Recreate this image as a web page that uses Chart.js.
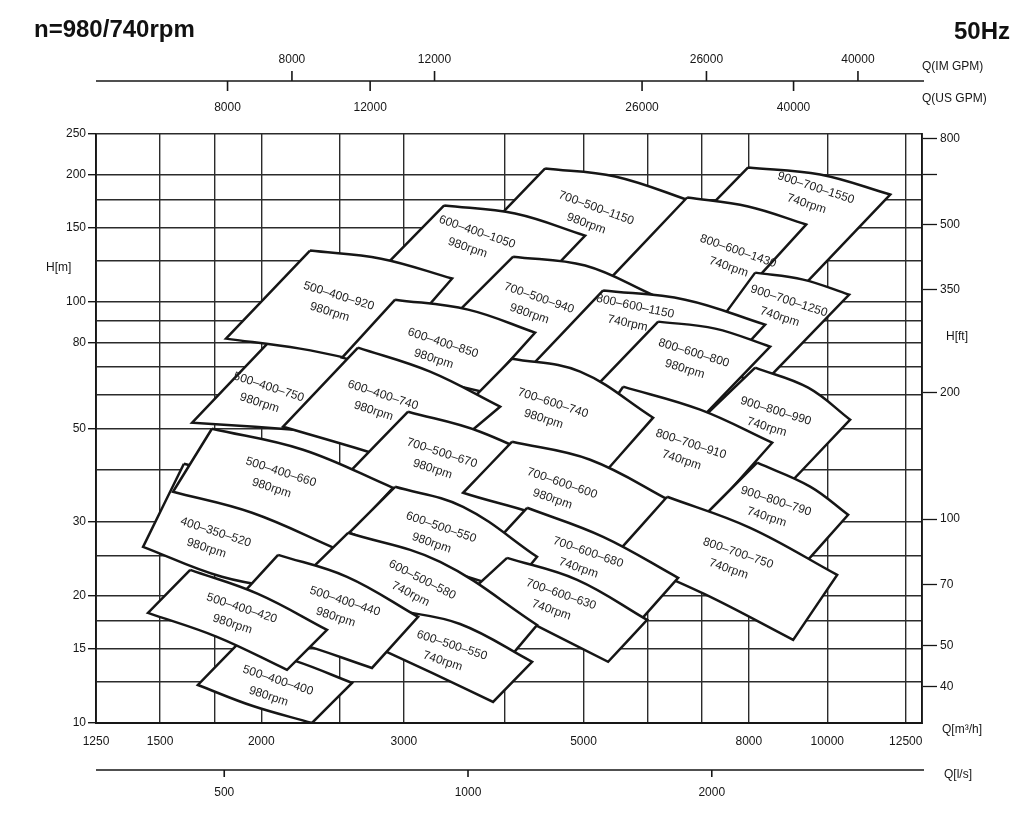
<!DOCTYPE html>
<html>
<head>
<meta charset="utf-8">
<title>Pump selection chart 980/740rpm 50Hz</title>
<script src="https://cdn.jsdelivr.net/npm/chart.js@4.4.1/dist/chart.umd.min.js"></script>
<style>
  html, body { margin: 0; padding: 0; background: #fff; }
  #wrap { width: 1024px; height: 827px; position: relative; }
</style>
</head>
<body>
<div id="wrap"><canvas id="chart" width="1024" height="827"></canvas></div>
<script>
// unit conversions to m3/h and m
const M3H_PER_IMGPM = 0.272765;
const M3H_PER_USGPM = 0.227125;
const M3H_PER_LS = 3.6;
const M_PER_FT = 0.3048;

// axes
const qGrid = [1250, 1500, 1750, 2000, 2500, 3000, 4000, 5000, 6000, 7000, 8000, 10000, 12500];
const qLabels = [1250, 1500, 2000, 3000, 5000, 8000, 10000, 12500];
const hGrid = [10, 12.5, 15, 17.5, 20, 25, 30, 40, 50, 60, 70, 80, 90, 100, 125, 150, 175, 200, 250];
const hLabels = [10, 15, 20, 30, 50, 80, 100, 150, 200, 250];
const ftTicks = [40, 50, 70, 100, 200, 350, 500, 656.2, 800];
const ftLabels = [40, 50, 70, 100, 200, 350, 500, 800];
const imGpmTicks = [8000, 12000, 26000, 40000];
const usGpmTicks = [8000, 12000, 26000, 40000];
const lsTicks = [500, 1000, 2000];

// pump tiles, listed back to front
const tileNames = ['900–700–1550', '700–500–1150', '800–600–1430', '600–400–1050', '500–400–750',
  '500–400–920', '700–500–940', '900–700–1250', '800–600–1150', '600–400–850', '800–600–800',
  '900–800–990', '800–700–910', '700–600–740', '600–400–740', '400–350–520', '700–500–670',
  '500–400–660', '700–600–600', '900–800–790', '800–700–750', '700–600–680', '600–500–550',
  '700–600–630', '600–500–580', '600–500–550', '500–400–440', '500–400–400', '500–400–420'];
const tileSpeeds = ['740rpm', '980rpm', '740rpm', '980rpm', '980rpm', '980rpm', '980rpm', '740rpm',
  '740rpm', '980rpm', '980rpm', '740rpm', '740rpm', '980rpm', '980rpm', '980rpm', '980rpm', '980rpm',
  '980rpm', '740rpm', '740rpm', '740rpm', '980rpm', '740rpm', '740rpm', '740rpm', '980rpm', '980rpm', '980rpm'];

// top edge [Q m3/h, H m]: left, middle, right
const tileTop = [
  [[7984, 208.2], [9799, 200.4], [11958, 179.6]],
  [[4483, 207.1], [5471, 198.2], [6868, 171.9]],
  [[6713, 176.7], [7984, 168.2], [9416, 152.4]],
  [[3364, 169.2], [4116, 161.9], [5023, 143.5]],
  [[2068, 82.15], [2467, 77.79], [2926, 72.05]],
  [[2297, 132.2], [2812, 126.5], [3441, 113.5]],
  [[4093, 127.9], [5023, 121.8], [6112, 103.4]],
  [[8146, 117.2], [9336, 112.8], [10642, 103.9]],
  [[5286, 106.3], [6675, 101.1], [8380, 88.21]],
  [[2926, 101.1], [3601, 95.75], [4357, 84.44]],
  [[6182, 89.67], [7270, 86.31], [8501, 78.21]],
  [[8146, 69.72], [9470, 62.5], [10672, 52.46]],
  [[5596, 62.84], [6966, 55.41], [8549, 46.26]],
  [[4081, 73.24], [4952, 68.21], [6094, 53.04]],
  [[2633, 77.79], [3232, 68.21], [3944, 56.33]],
  [[1605, 41.24], [2110, 36.16], [2725, 30.36]],
  [[3036, 54.81], [3726, 49.13], [4952, 38.2]],
  [[1738, 49.94], [2252, 44.52], [2909, 36.16]],
  [[4081, 46.51], [5095, 42.15], [6433, 33.5]],
  [[8191, 41.47], [9524, 36.4], [10611, 31.2]],
  [[6342, 34.43], [8030, 29.06], [10284, 22.47]],
  [[4259, 32.42], [5286, 27.66], [6543, 22.11]],
  [[2926, 36.36], [3550, 32.6], [4381, 24.8]],
  [[4023, 24.66], [4910, 21.87], [5991, 17.57]],
  [[2560, 28.28], [3326, 24.13], [4381, 17.09]],
  [[2926, 18.55], [3520, 17.18], [4320, 13.97]],
  [[2098, 25.07], [2552, 22.23], [3124, 17.86]],
  [[1866, 15.33], [2202, 14.04], [2589, 12.45]],
  [[1634, 23.09], [1981, 20.25], [2411, 16.63]]
];
// bottom edge: left, middle, right
const tileBottom = [
  [[6675, 146.7], [7739, 124.5], [8998, 101.1]],
  [[3471, 124.5], [4678, 109.8], [6043, 101.1]],
  [[5095, 101.1], [6043, 93.17], [7208, 86.78]],
  [[2648, 105.7], [3232, 96.81], [3977, 89.67]],
  [[1643, 51.61], [1965, 50.49], [2364, 49.13]],
  [[1809, 81.71], [2233, 77.36], [2780, 70.87]],
  [[3187, 79.07], [3944, 72.84], [4924, 66.01]],
  [[6868, 74.86], [7521, 68.96], [8262, 62.84]],
  [[4175, 66.01], [5242, 60.15], [6713, 55.41]],
  [[2517, 73.64], [3054, 67.1], [3747, 61.14]],
  [[5023, 59.17], [5874, 54.81], [6868, 51.04]],
  [[6581, 47.02], [7586, 39.91], [8549, 33.5]],
  [[4745, 39.91], [5874, 33.87], [7005, 30.03]],
  [[3326, 49.13], [4175, 39.91], [5023, 34.81]],
  [[2128, 50.49], [2611, 45.01], [3187, 39.91]],
  [[1429, 26.19], [1788, 22.23], [2246, 20.48]],
  [[2502, 37.37], [3142, 30.36], [3889, 24.4]],
  [[1556, 35.38], [1948, 31.55], [2474, 25.91]],
  [[3550, 35.19], [4678, 29.54], [5471, 23.09]],
  [[6771, 28.75], [7806, 24.4], [8998, 21.87]],
  [[5471, 25.07], [7046, 20.25], [9075, 15.75]],
  [[3834, 26.05], [4678, 19.81], [5709, 16.45]],
  [[2567, 28.28], [3232, 23.74], [4058, 20.71]],
  [[3622, 20.48], [4381, 17.0], [5362, 13.97]],
  [[2233, 21.87], [3054, 15.75], [3889, 13.01]],
  [[2686, 15.58], [3250, 13.15], [3866, 11.22]],
  [[1748, 17.09], [2189, 15.58], [2740, 13.51]],
  [[1670, 12.31], [1953, 10.97], [2310, 10.0]],
  [[1449, 18.25], [1763, 16.01], [2152, 13.37]]
];
// where each tile's name sits, and how far its text is turned (degrees)
const labelAt = [[9605, 177.6], [5138, 159.2], [7695, 125.8], [3664, 139.6], [2027, 59.83],
  [2474, 98.41], [4369, 97.34], [8896, 95.75], [5760, 92.8], [3326, 76.11], [6790, 72.05],
  [8573, 52.46], [6732, 43.8], [4547, 54.81], [2804, 57.26], [1743, 27.06], [3316, 41.7],
  [2098, 37.58], [4665, 35.38], [8573, 32.07], [7695, 24.13], [5023, 24.26], [3307, 27.81],
  [4651, 19.28], [3124, 20.93], [3412, 14.59], [2517, 18.55], [2080, 12.04], [1877, 17.86]];
const labelTilt = [18, 20, 19, 19, 18, 17, 19, 18, 12, 18, 17, 17, 18, 18, 18, 18, 18,
  18, 19, 18, 19, 19, 19, 19, 27, 18, 18, 18, 18];

const ink = '#161616';
const FONT = '"Liberation Sans", Arial, Helvetica, sans-serif';
Chart.defaults.font.family = FONT;
Chart.defaults.font.size = 12;
Chart.defaults.color = ink;

const toXY = p => ({x: p[0], y: p[1]});

const datasets = tileNames.map((name, i) => {
  const [tl, tm, tr] = tileTop[i];
  const [bl, bm, br] = tileBottom[i];
  // corners are doubled so the side edges stay straight while top/bottom curve
  const pts = [tl, tm, tr, tr, br, br, bm, bl, bl, tl].map(toXY);
  return {
    label: name + ' ' + tileSpeeds[i],
    tile: i,
    data: pts,
    fill: 'shape',
    tension: 0.38,
    backgroundColor: '#ffffff',
    borderColor: ink,
    borderWidth: 2.5,
    borderJoinStyle: 'miter',
    pointRadius: 0,
    pointHoverRadius: 0,
    order: tileNames.length - i
  };
});

const tileLabels = {
  id: 'tileLabels',
  afterDatasetDraw(chart, args) {
    const ds = chart.data.datasets[args.index];
    if (ds.tile === undefined) return;
    const i = ds.tile;
    const cx = chart.scales.x.getPixelForValue(labelAt[i][0]);
    const cy = chart.scales.y.getPixelForValue(labelAt[i][1]);
    const ctx = chart.ctx;
    ctx.save();
    ctx.translate(cx, cy);
    ctx.rotate(labelTilt[i] * Math.PI / 180);
    ctx.font = '12px ' + FONT;
    ctx.fillStyle = '#222';
    ctx.textAlign = 'center';
    ctx.textBaseline = 'middle';
    ctx.fillText(tileNames[i], 0, -9);
    ctx.fillText(tileSpeeds[i], -4, 9);
    ctx.restore();
  }
};

// secondary flow axes, unit names and heading
const extraAxes = {
  id: 'extraAxes',
  afterDraw(chart) {
    const {ctx, chartArea: a} = chart;
    const xs = chart.scales.x;
    const line = (x1, y1, x2, y2) => { ctx.beginPath(); ctx.moveTo(x1, y1); ctx.lineTo(x2, y2); ctx.stroke(); };
    ctx.save();
    ctx.strokeStyle = ink;
    ctx.fillStyle = ink;
    ctx.lineWidth = 1.6;
    ctx.font = '12px ' + FONT;
    ctx.textAlign = 'center';
    ctx.textBaseline = 'middle';

    const gpmY = a.top - 53;
    line(a.left, gpmY, a.right + 2, gpmY);
    imGpmTicks.forEach(v => {
      const px = xs.getPixelForValue(v * M3H_PER_IMGPM);
      line(px, gpmY - 10, px, gpmY);
      ctx.fillText(String(v), px, gpmY - 21);
    });
    usGpmTicks.forEach(v => {
      const px = xs.getPixelForValue(v * M3H_PER_USGPM);
      line(px, gpmY, px, gpmY + 10);
      ctx.fillText(String(v), px, gpmY + 27);
    });

    const lsY = a.bottom + 47;
    line(a.left, lsY, a.right + 2, lsY);
    lsTicks.forEach(v => {
      const px = xs.getPixelForValue(v * M3H_PER_LS);
      line(px, lsY, px, lsY + 7);
      ctx.fillText(String(v), px, lsY + 23);
    });

    ctx.textAlign = 'left';
    ctx.fillText('Q(IM GPM)', a.right, gpmY - 14);
    ctx.fillText('Q(US GPM)', a.right, gpmY + 18);
    ctx.fillText('Q[m³/h]', a.right + 20, a.bottom + 7);
    ctx.fillText('Q[l/s]', a.right + 22, lsY + 5);
    ctx.fillText('H[m]', 46, a.top + 134);
    ctx.fillText('H[ft]', a.right + 24, a.top + 203);

    ctx.font = 'bold 24px ' + FONT;
    ctx.fillStyle = '#111';
    ctx.fillText('n=980/740rpm', 34, 30);
    ctx.textAlign = 'right';
    ctx.fillText('50Hz', 1010, 32);
    ctx.restore();
  }
};

const gridColor = '#2b2b2b';

new Chart(document.getElementById('chart'), {
  type: 'line',
  data: {datasets},
  options: {
    responsive: false,
    animation: false,
    devicePixelRatio: 1,
    events: [],
    layout: {padding: {top: 134, left: 0, right: 0, bottom: 0}},
    plugins: {legend: {display: false}, tooltip: {enabled: false}},
    scales: {
      x: {
        type: 'logarithmic',
        position: 'bottom',
        min: 1250,
        max: 13090,
        afterBuildTicks: s => { s.ticks = qGrid.map(v => ({value: v})); },
        afterFit: s => { s.height = 104; },
        grid: {color: gridColor, lineWidth: 1.4, drawTicks: false},
        border: {display: true, color: ink, width: 1.9},
        ticks: {
          autoSkip: false, maxRotation: 0, padding: 11,
          callback: v => qLabels.includes(v) ? String(v) : ''
        }
      },
      y: {
        type: 'logarithmic',
        position: 'left',
        min: 10,
        max: 250,
        afterBuildTicks: s => { s.ticks = hGrid.map(v => ({value: v})); },
        afterFit: s => { s.width = 96; },
        grid: {
          color: gridColor, lineWidth: 1.4, tickLength: 8,
          tickColor: c => (c.tick && hLabels.includes(c.tick.value)) ? ink : 'rgba(0,0,0,0)'
        },
        border: {display: true, color: ink, width: 1.9},
        ticks: {
          autoSkip: false, padding: 2,
          callback: v => hLabels.includes(v) ? String(v) : ''
        }
      },
      yFt: {
        type: 'logarithmic',
        position: 'right',
        min: 10 / M_PER_FT,
        max: 250 / M_PER_FT,
        afterBuildTicks: s => { s.ticks = ftTicks.map(v => ({value: v})); },
        afterFit: s => { s.width = 102; },
        grid: {drawOnChartArea: false, tickLength: 15, tickColor: ink, tickWidth: 1.3},
        border: {display: true, color: ink, width: 1.9},
        ticks: {
          autoSkip: false, padding: 3,
          callback: v => ftLabels.includes(v) ? String(v) : ''
        }
      }
    }
  },
  plugins: [tileLabels, extraAxes]
});
</script>
</body>
</html>
